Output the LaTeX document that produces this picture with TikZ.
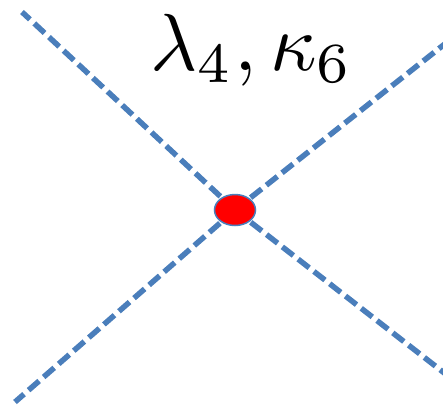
\documentclass[tikz,border=0pt]{standalone}
\definecolor{lineblue}{RGB}{74,126,187}
\tikzset{
  prop/.style={draw=lineblue, line width=5.5pt, dash pattern=on 14pt off 6pt},
  vertex/.style={ellipse, draw=lineblue, line width=1.5pt, fill=red, minimum width=41pt, minimum height=31pt, inner sep=0pt},
  coupling/.style={scale=8.1, anchor=base}
}
\usetikzlibrary{shapes.geometric}
\begin{document}
\begin{tikzpicture}[x=1pt, y=-1pt]
\useasboundingbox (0,0) rectangle (443,408);
\clip (0,0) rectangle (443,408);
\coordinate (c) at (235,210);
\coordinate (ul) at (22,12);
\coordinate (ll) at (15,402);
\coordinate (ur) at (470,24);
\coordinate (lr) at (470,393);
\draw[prop] (c) -- (ul);
\draw[prop] (c) -- (ll);
\draw[prop] (c) -- (ur);
\draw[prop] (c) -- (lr);
\node[vertex] (v) at (c) {};
\node[coupling] (lab) at (252,70) {$\lambda_4,\kappa_6$};
\end{tikzpicture}
\end{document}
